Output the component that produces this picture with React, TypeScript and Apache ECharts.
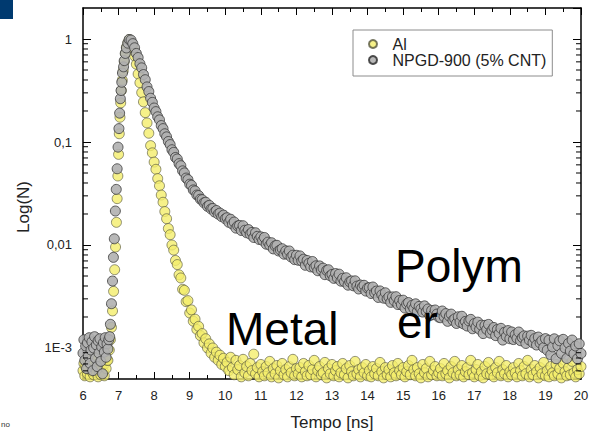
import React, { useEffect, useRef } from "react";
import * as echarts from "echarts";

// ---- Axis / tick data ----
const xMin = 6;
const xMax = 20;
const yMin = 0.0005;
const yMax = 2;
const yDecadeLabels: Record<string, string> = { "0": "1", "-1": "0,1", "-2": "0,01", "-3": "1E-3" };
const minorTickValues = [
  0.0006, 0.0007, 0.0008, 0.0009,
  0.002, 0.003, 0.004, 0.005, 0.006, 0.007, 0.008, 0.009,
  0.02, 0.03, 0.04, 0.05, 0.06, 0.07, 0.08, 0.09,
  0.2, 0.3, 0.4, 0.5, 0.6, 0.7, 0.8, 0.9,
];

// ---- Series data (values read as log10(N) off the log axis) ----
const baselineStart = 6.0;
const baselineStep = 0.025;
const sampleStep = 0.05;

// NPGD-900 (5% CNT)
const grayBaselineLog = [
  -3.05, -2.92, -3.12, -2.98, -3.2, -2.95, -3.08, -2.9, -3.15, -3.02, -2.94, -3.22, -3.0, -2.89, -3.1,
  -2.97, -3.18, -2.93, -3.05, -2.91, -3.13, -2.99, -3.25, -2.95, -3.04, -2.9, -3.09, -2.96, -3.01, -2.92,
];
const grayRiseTime = [
  6.75, 6.77, 6.8, 6.83, 6.855, 6.88, 6.91, 6.935, 6.96, 6.985, 7.01, 7.03, 7.05, 7.07, 7.09, 7.11, 7.14,
  7.16, 7.19, 7.22, 7.26, 7.3,
];
const grayRiseLog = [
  -2.89, -2.77, -2.57, -2.35, -2.12, -1.94, -1.67, -1.46, -1.26, -1.05, -0.87, -0.72, -0.58, -0.5, -0.42,
  -0.33, -0.27, -0.21, -0.14, -0.087, -0.04, -0.005,
];
const grayDecayStart = 7.35;
const grayDecayLog = [
  -0.01, -0.045, -0.085, -0.14, -0.18, -0.24, -0.28, -0.345, -0.395, -0.465, -0.51, -0.575, -0.615, -0.67,
  -0.705, -0.755, -0.785, -0.84, -0.87, -0.92, -0.95, -0.995, -1.025, -1.075,
  -1.1, -1.15, -1.165, -1.21, -1.23, -1.28, -1.3, -1.35, -1.365, -1.41, -1.42, -1.465, -1.475, -1.515, -1.52,
  -1.555, -1.56, -1.59, -1.585, -1.625, -1.615, -1.65, -1.645, -1.68, -1.665, -1.7, -1.69, -1.725, -1.71, -1.745,
  -1.735, -1.78, -1.75, -1.797, -1.777, -1.836, -1.815, -1.81, -1.859, -1.813, -1.857, -1.881, -1.85, -1.894,
  -1.878, -1.927, -1.881, -1.916, -1.946, -1.921, -1.956, -1.927, -1.992, -1.972, -2.002, -1.978, -2.038,
  -2.008, -2.003, -2.058, -2.048, -2.036, -2.089, -2.057, -2.09, -2.058, -2.116, -2.099, -2.142, -2.1,
  -2.148, -2.106, -2.155, -2.138, -2.197, -2.15, -2.178, -2.212, -2.16, -2.218, -2.202, -2.25, -2.203, -2.242,
  -2.225, -2.288, -2.247, -2.24, -2.298, -2.286, -2.324, -2.277, -2.32, -2.283, -2.351, -2.324, -2.356, -2.318,
  -2.39, -2.357, -2.349, -2.396, -2.348, -2.4, -2.427, -2.389, -2.41, -2.391, -2.447, -2.418,
  -2.414, -2.471, -2.408, -2.465, -2.447, -2.509, -2.446, -2.484, -2.516, -2.464, -2.522, -2.504, -2.557,
  -2.504, -2.541, -2.502, -2.578, -2.539, -2.58, -2.536, -2.612, -2.573, -2.559, -2.62, -2.586, -2.616, -2.571,
  -2.646, -2.596, -2.621, -2.651, -2.591, -2.646, -2.621, -2.686, -2.636, -2.676, -2.631, -2.671, -2.701,
  -2.706, -2.641, -2.696, -2.666, -2.741, -2.691, -2.671, -2.731, -2.716, -2.762, -2.697, -2.747, -2.692,
  -2.767, -2.742, -2.787, -2.737, -2.722, -2.813, -2.763, -2.798, -2.749, -2.819, -2.779, -2.86, -2.78, -2.82,
  -2.771, -2.856, -2.826, -2.801, -2.88, -2.82, -2.859, -2.809, -2.923, -2.847, -2.887, -2.831, -2.91,
  -2.844, -2.918, -2.872, -2.906, -2.845, -2.929, -2.898, -2.882, -2.956, -2.885, -2.923, -2.877, -2.95,
  -2.908, -2.971, -2.894, -2.951, -2.929, -2.996, -2.909, -3.021, -2.924, -3.066, -2.989, -2.911, -3.104,
  -2.977, -2.93, -3.053, -2.916, -2.999, -3.102, -2.955, -3.029, -2.923, -3.057, -2.981, -3.105, -2.959, -3.053,
];

// Al
const alBaselineLog = [
  -3.22, -3.15, -3.27, -3.18, -3.1, -3.25, -3.2, -3.13, -3.28, -3.17, -3.23, -3.12, -3.26, -3.19, -3.09,
  -3.24, -3.16, -3.28, -3.21, -3.14, -3.26, -3.18, -3.11, -3.23, -3.27, -3.15, -3.2, -3.12,
];
const alRiseTime = [
  6.7, 6.74, 6.77, 6.8, 6.83, 6.86, 6.89, 6.915, 6.94, 6.96, 6.98, 7.0, 7.02, 7.04, 7.06, 7.08, 7.105, 7.13,
  7.16, 7.19, 7.22, 7.26, 7.3,
];
const alRiseLog = [
  -3.12, -3.02, -2.92, -2.8, -2.64, -2.45, -2.24, -2.02, -1.78, -1.55, -1.33, -1.12, -0.92, -0.76, -0.62,
  -0.5, -0.4, -0.31, -0.22, -0.14, -0.08, -0.035, -0.005,
];
const alDecayStart = 7.35;
const alDecayLog = [
  -0.03, -0.085, -0.165, -0.245, -0.34, -0.425, -0.52, -0.61, -0.715, -0.815, -0.915, -1.035, -1.105, -1.195,
  -1.265, -1.355, -1.425, -1.515, -1.585, -1.675, -1.745, -1.84, -1.9, -2.0, -2.05, -2.15, -2.19, -2.29, -2.32,
  -2.43, -2.44, -2.55, -2.54, -2.66, -2.63, -2.74, -2.72, -2.82, -2.79, -2.88, -2.86, -2.95, -2.91, -3.0,
  -2.96, -3.05, -3.0, -3.09, -3.04, -3.12, -3.07, -3.16, -3.1, -3.18,
];
const alFloorStart = 10.05;
const alFloorLog = [
  -3.14, -3.22, -3.09, -3.19, -3.26, -3.12, -3.21, -3.17, -3.28, -3.11, -3.24, -3.18, -3.27, -3.15, -3.22, -3.06, -3.25, -3.19, -3.28, -3.16,
  -3.23, -3.27, -3.18, -3.24, -3.13, -3.28, -3.2, -3.25, -3.17, -3.29, -3.22, -3.15, -3.26, -3.21, -3.28, -3.18, -3.24, -3.11, -3.27, -3.2,
  -3.25, -3.19, -3.28, -3.15, -3.23, -3.27, -3.17, -3.26, -3.21, -3.12, -3.28, -3.22, -3.18, -3.26, -3.24, -3.14, -3.29, -3.2, -3.25, -3.16,
  -3.27, -3.22, -3.18, -3.28, -3.24, -3.15, -3.26, -3.2, -3.29, -3.17, -3.23, -3.27, -3.13, -3.25, -3.21, -3.28, -3.19, -3.24, -3.16, -3.27,
  -3.22, -3.28, -3.18, -3.25, -3.2, -3.27, -3.14, -3.23, -3.29, -3.19, -3.26, -3.21, -3.28, -3.17, -3.24, -3.27, -3.15, -3.22, -3.26, -3.19,
  -3.28, -3.23, -3.17, -3.26, -3.12, -3.21, -3.27, -3.19, -3.25, -3.29, -3.16, -3.24, -3.2, -3.28, -3.13, -3.26, -3.22, -3.18, -3.27, -3.24,
  -3.2, -3.27, -3.15, -3.25, -3.22, -3.29, -3.18, -3.24, -3.13, -3.27, -3.21, -3.26, -3.17, -3.28, -3.23, -3.19, -3.26, -3.12, -3.24, -3.28,
  -3.21, -3.16, -3.27, -3.23, -3.29, -3.18, -3.25, -3.14, -3.26, -3.22, -3.28, -3.19, -3.24, -3.13, -3.27, -3.21, -3.25, -3.17, -3.28, -3.23,
  -3.26, -3.19, -3.24, -3.28, -3.15, -3.22, -3.27, -3.18, -3.25, -3.12, -3.28, -3.21, -3.26, -3.17, -3.23, -3.29, -3.19, -3.25, -3.14, -3.27,
  -3.22, -3.28, -3.18, -3.24, -3.27, -3.16, -3.25, -3.2, -3.29, -3.15, -3.23, -3.27, -3.19, -3.26, -3.13, -3.24, -3.28, -3.21, -3.25, -3.18,
];

const seriesNames = ["Al", "NPGD-900 (5% CNT)"];

// ---- helpers to build [time, N] pairs ----
const fromLog = (v: number) => Math.pow(10, v);
const onGrid = (start: number, step: number, logs: number[]) =>
  logs.map((v, i) => [Math.round((start + i * step) * 1000) / 1000, fromLog(v)]);
const onTimes = (times: number[], logs: number[]) => times.map((t, i) => [t, fromLog(logs[i])]);

const alData = [
  ...onGrid(baselineStart, baselineStep, alBaselineLog),
  ...onTimes(alRiseTime, alRiseLog),
  ...onGrid(alDecayStart, sampleStep, alDecayLog),
  ...onGrid(alFloorStart, sampleStep, alFloorLog),
];
const grayData = [
  ...onGrid(baselineStart, baselineStep, grayBaselineLog),
  ...onTimes(grayRiseTime, grayRiseLog),
  ...onGrid(grayDecayStart, sampleStep, grayDecayLog),
];

const FONT = "'Liberation Sans', Arial, sans-serif";

export default function App() {
  const ref = useRef<HTMLDivElement>(null);
  useEffect(() => {
    if (!ref.current) return;
    const chart = echarts.init(ref.current, null, { renderer: "svg" });
    const axisLine = { show: true, lineStyle: { color: "#000", width: 1.5 } };
    const yFormatter = (v: number) => {
      const l = Math.log10(v);
      const r = Math.round(l);
      if (Math.abs(l - r) > 0.01) return "";
      return yDecadeLabels[String(r)] ?? "";
    };
    chart.setOption({
      animation: false,
      textStyle: { fontFamily: FONT },
      grid: { left: 83, right: 8, top: 8, bottom: 52, containLabel: false, outerBoundsMode: "none" },
      legend: {
        data: seriesNames,
        orient: "vertical",
        left: 353,
        top: 30,
        padding: [6, 6, 8, 15],
        itemGap: 0,
        itemWidth: 29,
        itemHeight: 8,
        icon: "circle",
        borderColor: "#8c8c8c",
        borderWidth: 1,
        borderRadius: 0,
        backgroundColor: "#fff",
        textStyle: { fontSize: 16, lineHeight: 15, color: "#222", fontFamily: FONT },
        selectedMode: false,
      },
      xAxis: [
        {
          type: "value",
          min: xMin,
          max: xMax,
          interval: 1,
          position: "bottom",
          axisLine,
          axisTick: { show: true, inside: true, length: 7, lineStyle: { color: "#000", width: 1 } },
          minorTick: { show: true, splitNumber: 2, length: 4, lineStyle: { color: "#000", width: 1 } },
          splitLine: { show: false },
          axisLabel: { fontSize: 13, color: "#222", margin: 10, fontFamily: FONT },
          name: "Tempo [ns]",
          nameLocation: "middle",
          nameGap: 35,
          nameTextStyle: { fontSize: 17, color: "#222", fontFamily: FONT },
        },
        {
          type: "value",
          min: xMin,
          max: xMax,
          interval: 1,
          position: "top",
          axisLine,
          axisTick: { show: true, inside: true, length: 7, lineStyle: { color: "#000", width: 1 } },
          minorTick: { show: true, splitNumber: 2, length: 4, lineStyle: { color: "#000", width: 1 } },
          splitLine: { show: false },
          axisLabel: { show: false },
        },
      ],
      yAxis: [
        {
          type: "log",
          logBase: 10,
          min: yMin,
          max: yMax,
          position: "left",
          axisLine,
          axisTick: { show: true, inside: true, length: 8, lineStyle: { color: "#000", width: 1 } },
          splitLine: { show: false },
          axisLabel: {
            fontSize: 13,
            color: "#222",
            margin: 11,
            fontFamily: FONT,
            showMinLabel: false,
            showMaxLabel: false,
            formatter: yFormatter,
          },
          name: "Log(N)",
          nameLocation: "middle",
          nameGap: 51,
          nameTextStyle: { fontSize: 17, color: "#222", fontFamily: FONT, padding: [0, 27, 0, 0] },
        },
        {
          type: "log",
          logBase: 10,
          min: yMin,
          max: yMax,
          position: "right",
          axisLine,
          axisTick: { show: true, inside: true, length: 8, lineStyle: { color: "#000", width: 1 } },
          splitLine: { show: false },
          axisLabel: { show: false },
        },
      ],
      series: [
        {
          type: "scatter",
          name: seriesNames[0],
          data: alData,
          symbol: "circle",
          symbolSize: 10,
          itemStyle: { color: "#f4ee6c", borderColor: "#55553c", borderWidth: 0.8 },
          z: 2,
        },
        {
          type: "scatter",
          name: seriesNames[1],
          data: grayData,
          symbol: "circle",
          symbolSize: 10,
          itemStyle: { color: "#b0b0b0", borderColor: "#3a3a3a", borderWidth: 0.9, opacity: 0.9 },
          z: 3,
        },
        {
          type: "custom",
          name: "minor",
          silent: true,
          clip: false,
          z: 10,
          data: minorTickValues.map((v) => [xMin, v]),
          encode: { x: 0, y: 1 },
          renderItem: (_params: any, api: any) => {
            const v = api.value(1);
            const l = api.coord([xMin, v]);
            const r = api.coord([xMax, v]);
            return {
              type: "group",
              children: [
                { type: "line", shape: { x1: l[0], y1: l[1], x2: l[0] + 5, y2: l[1] }, style: { stroke: "#000", lineWidth: 1 } },
                { type: "line", shape: { x1: r[0] - 5, y1: r[1], x2: r[0], y2: r[1] }, style: { stroke: "#000", lineWidth: 1 } },
              ],
            };
          },
        },
      ],
      graphic: [
        { type: "rect", left: 0, top: 0, z: 100, shape: { x: 0, y: 0, width: 13, height: 19 }, style: { fill: "#003a70" } },
        { type: "text", x: 1, y: 424, z: 100, style: { text: "no", fontSize: 8, fill: "#333", fontFamily: FONT, verticalAlign: "middle" } },
        { type: "text", x: 226, y: 329, z: 100, style: { text: "Metal", fontSize: 46, fill: "#000", fontFamily: FONT, verticalAlign: "middle" } },
        { type: "text", x: 395, y: 266, z: 100, style: { text: "Polym", fontSize: 46, fill: "#000", fontFamily: FONT, verticalAlign: "middle" } },
        { type: "text", x: 397, y: 322, z: 100, style: { text: "er", fontSize: 46, fill: "#000", fontFamily: FONT, verticalAlign: "middle" } },
      ],
    });
    return () => chart.dispose();
  }, []);
  return <div ref={ref} style={{ position: "absolute", left: 0, top: 0, width: 589, height: 431 }} />;
}
